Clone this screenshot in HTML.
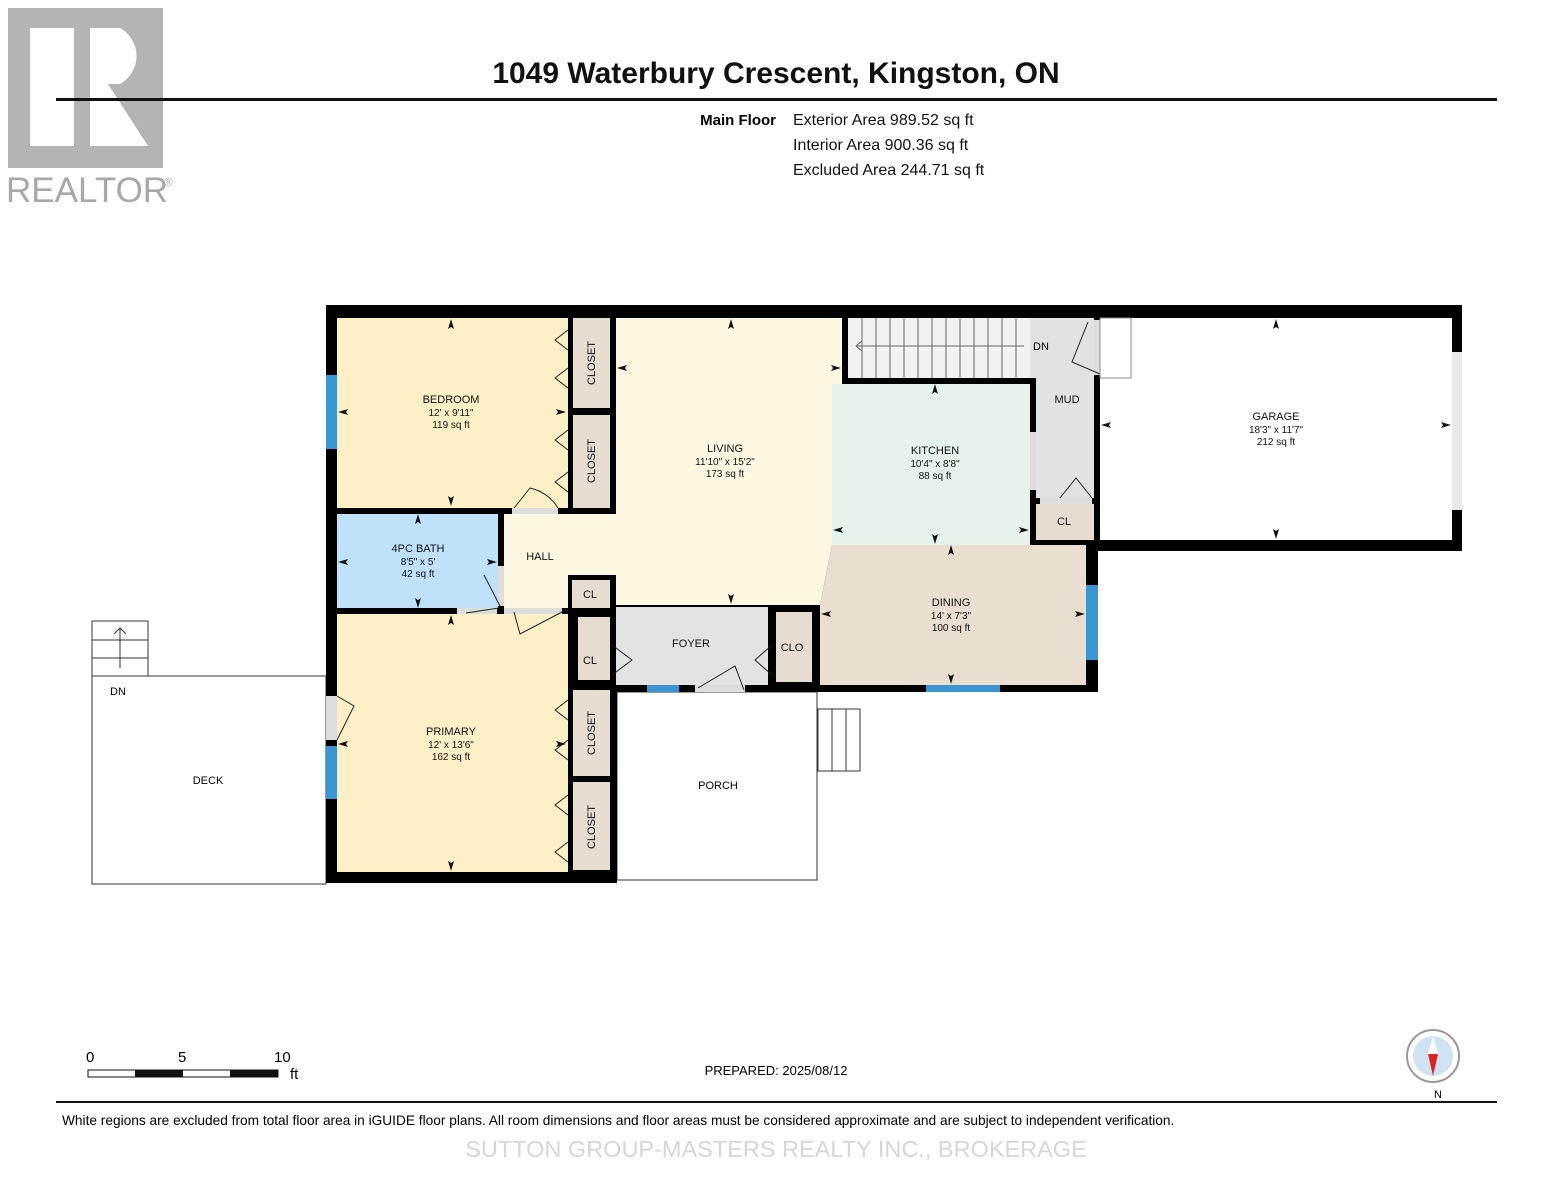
<!DOCTYPE html>
<html><head><meta charset="utf-8"><style>
body{margin:0;background:#fff;}
svg{display:block;font-family:"Liberation Sans",Arial,sans-serif;}
</style></head><body>
<svg width="1553" height="1200" viewBox="0 0 1553 1200" xmlns="http://www.w3.org/2000/svg">
<defs>
<path id="au" d="M0 -6 L3 4 L0 2 L-3 4 Z" fill="#111"/>
</defs>
<!-- realtor logo -->
<rect x="8" y="8" width="155" height="160" fill="#b4b4b4"/>
<rect x="30" y="28" width="44" height="118" fill="#fff"/>
<path d="M90 28 H120 A32 32 0 0 1 120 84 H108 L148 146 H90 Z" fill="#fff"/>
<text x="6" y="202" font-size="35" fill="#a8a8a8">REALTOR</text>
<text x="164" y="186" font-size="12" fill="#a8a8a8">®</text>
<text x="776" y="83" font-size="30" font-weight="bold" text-anchor="middle" fill="#111">1049 Waterbury Crescent, Kingston, ON</text>
<rect x="56" y="98" width="1441" height="3" fill="#111"/>
<text x="776" y="125" font-size="15" font-weight="bold" text-anchor="end">Main Floor</text>
<g font-size="16" fill="#111"><text x="793" y="125">Exterior Area 989.52 sq ft</text><text x="793" y="150">Interior Area 900.36 sq ft</text><text x="793" y="175">Excluded Area 244.71 sq ft</text></g>

<!-- deck and porch -->
<rect x="92" y="676" width="234" height="208" fill="#fff" stroke="#333" stroke-width="1"/>
<rect x="92" y="621" width="56" height="55" fill="#fff" stroke="#333"/>
<line x1="92" y1="640" x2="148" y2="640" stroke="#333"/><line x1="92" y1="658" x2="148" y2="658" stroke="#333"/>
<line x1="120" y1="668" x2="120" y2="628" stroke="#333"/><path d="M114 634 L120 628 L126 634" fill="none" stroke="#333"/>
<text x="110" y="695" font-size="11">DN</text>
<text x="208" y="784" font-size="11" text-anchor="middle">DECK</text>
<rect x="617" y="692" width="200" height="188" fill="#fff" stroke="#333"/>
<text x="718" y="789" font-size="11" text-anchor="middle">PORCH</text>
<rect x="818" y="709" width="42" height="62" fill="#fff" stroke="#333"/>
<line x1="832" y1="709" x2="832" y2="771" stroke="#333"/><line x1="846" y1="709" x2="846" y2="771" stroke="#333"/>

<!-- walls background -->
<path d="M326 305 H1462 V551 H1098 V692 H617 V883 H326 Z" fill="#000"/>
<!-- rooms -->
<rect x="337" y="318" width="231" height="190" fill="#fdefc6"/>
<rect x="573" y="318" width="37" height="90" fill="#e6ddd0"/>
<rect x="573" y="415" width="37" height="93" fill="#e6ddd0"/>
<rect x="337" y="514" width="161" height="94" fill="#bfe1f9"/>
<path d="M504 514 H616 V318 H842 V384 H832 V545 L820 605 H616 V575 H568 V608 H504 Z" fill="#fef8e3"/>
<rect x="848" y="318" width="182" height="60" fill="#f2f2f2"/>
<rect x="832" y="384" width="198" height="161" fill="#e5f3eb"/>
<rect x="1030" y="318" width="64" height="60" fill="#e2e2e2"/>
<rect x="1036" y="318" width="58" height="180" fill="#e2e2e2"/>
<rect x="1036" y="504" width="58" height="36" fill="#e6ddd0"/>
<rect x="1100" y="318" width="352" height="222" fill="#fff"/>
<path d="M832 545 H1086 V685 H820 V605 Z" fill="#e9ded0"/>
<rect x="616" y="607" width="152" height="78" fill="#e3e3e3"/>
<rect x="776" y="612" width="36" height="70" fill="#e6ddd0"/>
<rect x="572" y="580" width="38" height="28" fill="#e6ddd0"/>
<rect x="578" y="617" width="32" height="63" fill="#e6ddd0"/>
<rect x="337" y="614" width="231" height="258" fill="#fdefc6"/>
<rect x="573" y="690" width="37" height="86" fill="#e6ddd0"/>
<rect x="573" y="782" width="37" height="88" fill="#e6ddd0"/>
<!-- door gaps -->
<g fill="#ddd"><rect x="512" y="508" width="46" height="6"/><rect x="457" y="608" width="40" height="6"/><rect x="504" y="608" width="58" height="6"/><rect x="498" y="566" width="6" height="40"/><rect x="326" y="696" width="11" height="44"/><rect x="695" y="685" width="50" height="7"/><rect x="1040" y="498" width="52" height="6"/><rect x="1030" y="432" width="6" height="58"/><rect x="1094" y="320" width="6" height="55"/></g>
<!-- windows -->
<g fill="#3b95d0"><rect x="326" y="375" width="11" height="74"/><rect x="326" y="746" width="11" height="53"/><rect x="1086" y="585" width="12" height="75"/><rect x="926" y="685" width="74" height="7"/><rect x="647" y="685" width="32" height="7"/></g>
<rect x="1452" y="352" width="10" height="158" fill="#e8e8e8"/>
<!-- door swings -->
<g fill="none" stroke="#222" stroke-width="1">
<path d="M514 508 L530 488 M558 508 A44 44 0 0 0 530 488"/>
<path d="M500 606 L484 575"/><path d="M499 608 L466 613"/><path d="M514 612 L520 634 L562 612"/>
<path d="M337 740 L354 706 L337 696"/><path d="M698 688 L735 666 L744 690"/>
<path d="M1092 498 L1076 478 L1060 498"/><path d="M1100 374 L1072 362 L1088 322"/>
<path d="M568 330 L555 340 L568 350 M568 368 L555 378 L568 388 M568 430 L555 440 L568 450 M568 472 L555 482 L568 492"/>
<path d="M568 700 L555 710 L568 720 M568 740 L555 750 L568 760 M568 795 L555 805 L568 815 M568 842 L555 852 L568 862"/>
<path d="M612 645 L632 660 L612 675 M772 645 L755 660 L772 675"/>
</g>
<!-- stairs -->
<g stroke="#666" stroke-width="1">
<line x1="862" y1="318" x2="862" y2="378"/><line x1="876" y1="318" x2="876" y2="378"/><line x1="890" y1="318" x2="890" y2="378"/><line x1="904" y1="318" x2="904" y2="378"/><line x1="918" y1="318" x2="918" y2="378"/><line x1="932" y1="318" x2="932" y2="378"/><line x1="946" y1="318" x2="946" y2="378"/><line x1="960" y1="318" x2="960" y2="378"/><line x1="974" y1="318" x2="974" y2="378"/><line x1="988" y1="318" x2="988" y2="378"/><line x1="1002" y1="318" x2="1002" y2="378"/><line x1="1016" y1="318" x2="1016" y2="378"/>
<line x1="856" y1="346" x2="1024" y2="346"/><path d="M862 341 L856 346 L862 351" fill="none"/>
</g>
<rect x="1100" y="318" width="31" height="60" fill="#fff" stroke="#888"/>
<text x="1033" y="350" font-size="11">DN</text>
<!-- arrows -->
<g>
<use href="#au" x="451" y="325"/><use href="#au" x="451" y="500" transform="rotate(180 451 500)"/>
<use href="#au" x="344" y="412" transform="rotate(-90 344 412)"/><use href="#au" x="560" y="412" transform="rotate(90 560 412)"/>
<use href="#au" x="731" y="325"/><use href="#au" x="731" y="598" transform="rotate(180 731 598)"/>
<use href="#au" x="623" y="368" transform="rotate(-90 623 368)"/><use href="#au" x="835" y="368" transform="rotate(90 835 368)"/>
<use href="#au" x="935" y="390"/><use href="#au" x="935" y="538" transform="rotate(180 935 538)"/>
<use href="#au" x="839" y="530" transform="rotate(-90 839 530)"/><use href="#au" x="1023" y="530" transform="rotate(90 1023 530)"/>
<use href="#au" x="1276" y="325"/><use href="#au" x="1276" y="533" transform="rotate(180 1276 533)"/>
<use href="#au" x="1107" y="425" transform="rotate(-90 1107 425)"/><use href="#au" x="1445" y="425" transform="rotate(90 1445 425)"/>
<use href="#au" x="418" y="520"/><use href="#au" x="418" y="602" transform="rotate(180 418 602)"/>
<use href="#au" x="344" y="562" transform="rotate(-90 344 562)"/><use href="#au" x="491" y="562" transform="rotate(90 491 562)"/>
<use href="#au" x="951" y="551"/><use href="#au" x="951" y="678" transform="rotate(180 951 678)"/>
<use href="#au" x="827" y="614" transform="rotate(-90 827 614)"/><use href="#au" x="1079" y="614" transform="rotate(90 1079 614)"/>
<use href="#au" x="451" y="621"/><use href="#au" x="451" y="865" transform="rotate(180 451 865)"/>
<use href="#au" x="344" y="744" transform="rotate(-90 344 744)"/><use href="#au" x="560" y="744" transform="rotate(90 560 744)"/>
</g>
<!-- labels -->
<g font-size="11" text-anchor="middle" fill="#111">
<text x="451" y="403">BEDROOM</text><text x="451" y="416" font-size="10">12' x 9'11"</text><text x="451" y="428" font-size="10">119 sq ft</text>
<text x="725" y="452">LIVING</text><text x="725" y="465" font-size="10">11'10" x 15'2"</text><text x="725" y="477" font-size="10">173 sq ft</text>
<text x="935" y="454">KITCHEN</text><text x="935" y="467" font-size="10">10'4" x 8'8"</text><text x="935" y="479" font-size="10">88 sq ft</text>
<text x="1276" y="420">GARAGE</text><text x="1276" y="433" font-size="10">18'3" x 11'7"</text><text x="1276" y="445" font-size="10">212 sq ft</text>
<text x="418" y="552">4PC BATH</text><text x="418" y="565" font-size="10">8'5" x 5'</text><text x="418" y="577" font-size="10">42 sq ft</text>
<text x="951" y="606">DINING</text><text x="951" y="619" font-size="10">14' x 7'3"</text><text x="951" y="631" font-size="10">100 sq ft</text>
<text x="451" y="735">PRIMARY</text><text x="451" y="748" font-size="10">12' x 13'6"</text><text x="451" y="760" font-size="10">162 sq ft</text>
<text x="540" y="560">HALL</text><text x="691" y="647">FOYER</text><text x="1067" y="403">MUD</text>
<text x="1064" y="525">CL</text><text x="590" y="598">CL</text><text x="590" y="664">CL</text><text x="792" y="651">CLO</text>
<text transform="translate(595 363) rotate(-90)">CLOSET</text>
<text transform="translate(595 461) rotate(-90)">CLOSET</text>
<text transform="translate(595 733) rotate(-90)">CLOSET</text>
<text transform="translate(595 827) rotate(-90)">CLOSET</text>
</g>
<!-- scale -->
<g font-size="15"><text x="86" y="1062">0</text><text x="178" y="1062">5</text><text x="274" y="1062">10</text><text x="290" y="1079">ft</text></g>
<rect x="88" y="1070" width="190" height="7" fill="#fff" stroke="#111"/>
<rect x="135" y="1070" width="48" height="7" fill="#111"/><rect x="230" y="1070" width="48" height="7" fill="#111"/>
<text x="776" y="1075" font-size="13" text-anchor="middle">PREPARED: 2025/08/12</text>
<circle cx="1433" cy="1056" r="26" fill="#fff" stroke="#999" stroke-width="2"/>
<circle cx="1433" cy="1056" r="20" fill="#cfe3f3"/>
<path d="M1428 1054 L1433 1076 L1438 1054 Z" fill="#d22"/><path d="M1428 1054 L1433 1036 L1438 1054 Z" fill="#fff"/>
<text x="1438" y="1098" font-size="11" text-anchor="middle">N</text>
<rect x="56" y="1101" width="1441" height="2" fill="#111"/>
<text x="62" y="1125" font-size="13.7">White regions are excluded from total floor area in iGUIDE floor plans. All room dimensions and floor areas must be considered approximate and are subject to independent verification.</text>
<text x="776" y="1157" font-size="23.5" text-anchor="middle" fill="#d6d6d6">SUTTON GROUP-MASTERS REALTY INC., BROKERAGE</text>
</svg>
</body></html>
